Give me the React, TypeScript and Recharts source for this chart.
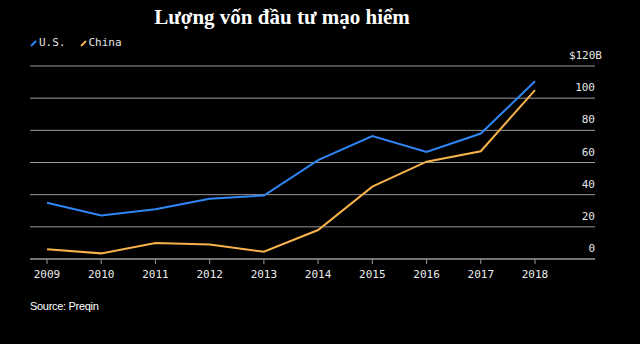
import React from 'react';
import { LineChart, Line, XAxis, YAxis, CartesianGrid, Legend } from 'recharts';

const years = ['2009', '2010', '2011', '2012', '2013', '2014', '2015', '2016', '2017', '2018'];
const usValues = [35, 27, 31, 37.5, 39.5, 61.5, 76.5, 66.5, 78, 110.5];
const chinaValues = [6, 3.5, 10, 9, 4.5, 18, 45, 60.5, 67, 105];
const yTicks = [0, 20, 40, 60, 80, 100, 120];

const seriesList = [
  { key: 'us', name: 'U.S.', color: '#2f86f6' },
  { key: 'china', name: 'China', color: '#f7b24c' },
];

const data = years.map((year, i) => ({ year, us: usValues[i], china: chinaValues[i] }));

const MONO = '"DejaVu Sans Mono", "Liberation Mono", monospace';

const renderYTick = (props: any) => {
  const { x, y, payload } = props;
  const top = payload.value === 120;
  return (
    <text
      x={top ? x + 7 : x}
      y={y - 7}
      textAnchor="end"
      fill="#e6e6e6"
      fontFamily={MONO}
      fontSize={11}
    >
      {top ? `$${payload.value}B` : payload.value}
    </text>
  );
};

const LegendContent = () => (
  <div style={{ display: 'flex', gap: 14, fontFamily: MONO, fontSize: 11, color: '#e6e6e6' }}>
    {seriesList.map((s) => (
      <div key={s.key} style={{ display: 'flex', alignItems: 'center' }}>
        <svg width={8} height={10} style={{ marginRight: 1 }}>
          <line x1={1} y1={8} x2={6} y2={3} stroke={s.color} strokeWidth={2} />
        </svg>
        <span>{s.name}</span>
      </div>
    ))}
  </div>
);

export default function App() {
  return (
    <div style={{ position: 'absolute', left: 0, top: 0, width: 640, height: 344, background: '#000', overflow: 'hidden' }}>
      <div
        style={{
          position: 'absolute',
          left: 0,
          width: 564,
          top: 5,
          textAlign: 'center',
          fontFamily: '"Liberation Serif", "Times New Roman", serif',
          fontWeight: 'bold',
          fontSize: 21,
          color: '#fff',
        }}
      >
        Lượng vốn đầu tư mạo hiểm
      </div>
      <LineChart width={640} height={344} data={data} margin={{ top: 66, right: 0, bottom: 55, left: 30 }}>
        <CartesianGrid vertical={false} stroke="#999" strokeWidth={1} />
        <XAxis
          dataKey="year"
          padding={{ left: 17, right: 60 }}
          height={30}
          axisLine={{ stroke: '#999' }}
          tickLine={{ stroke: '#999' }}
          tickSize={5}
          tickMargin={6}
          tick={{ fill: '#ececec', fontFamily: MONO, fontSize: 11 }}
          interval={0}
        />
        <YAxis
          orientation="right"
          width={45}
          domain={[0, 120]}
          ticks={yTicks}
          axisLine={false}
          tickLine={false}
          tickSize={0}
          tickMargin={0}
          tick={renderYTick}
        />
        <Legend
          layout="horizontal"
          verticalAlign="middle"
          align="center"
          content={<LegendContent />}
          wrapperStyle={{ top: 36, left: 30, width: 'auto' }}
        />
        {seriesList.map((s) => (
          <Line
            key={s.key}
            dataKey={s.key}
            name={s.name}
            stroke={s.color}
            strokeWidth={2}
            dot={false}
            isAnimationActive={false}
          />
        ))}
      </LineChart>
      <div
        style={{
          position: 'absolute',
          left: 30,
          top: 300,
          fontFamily: '"Liberation Sans", Arial, sans-serif',
          fontSize: 11,
          letterSpacing: -0.3,
          color: '#fff',
        }}
      >
        Source: Preqin
      </div>
    </div>
  );
}
